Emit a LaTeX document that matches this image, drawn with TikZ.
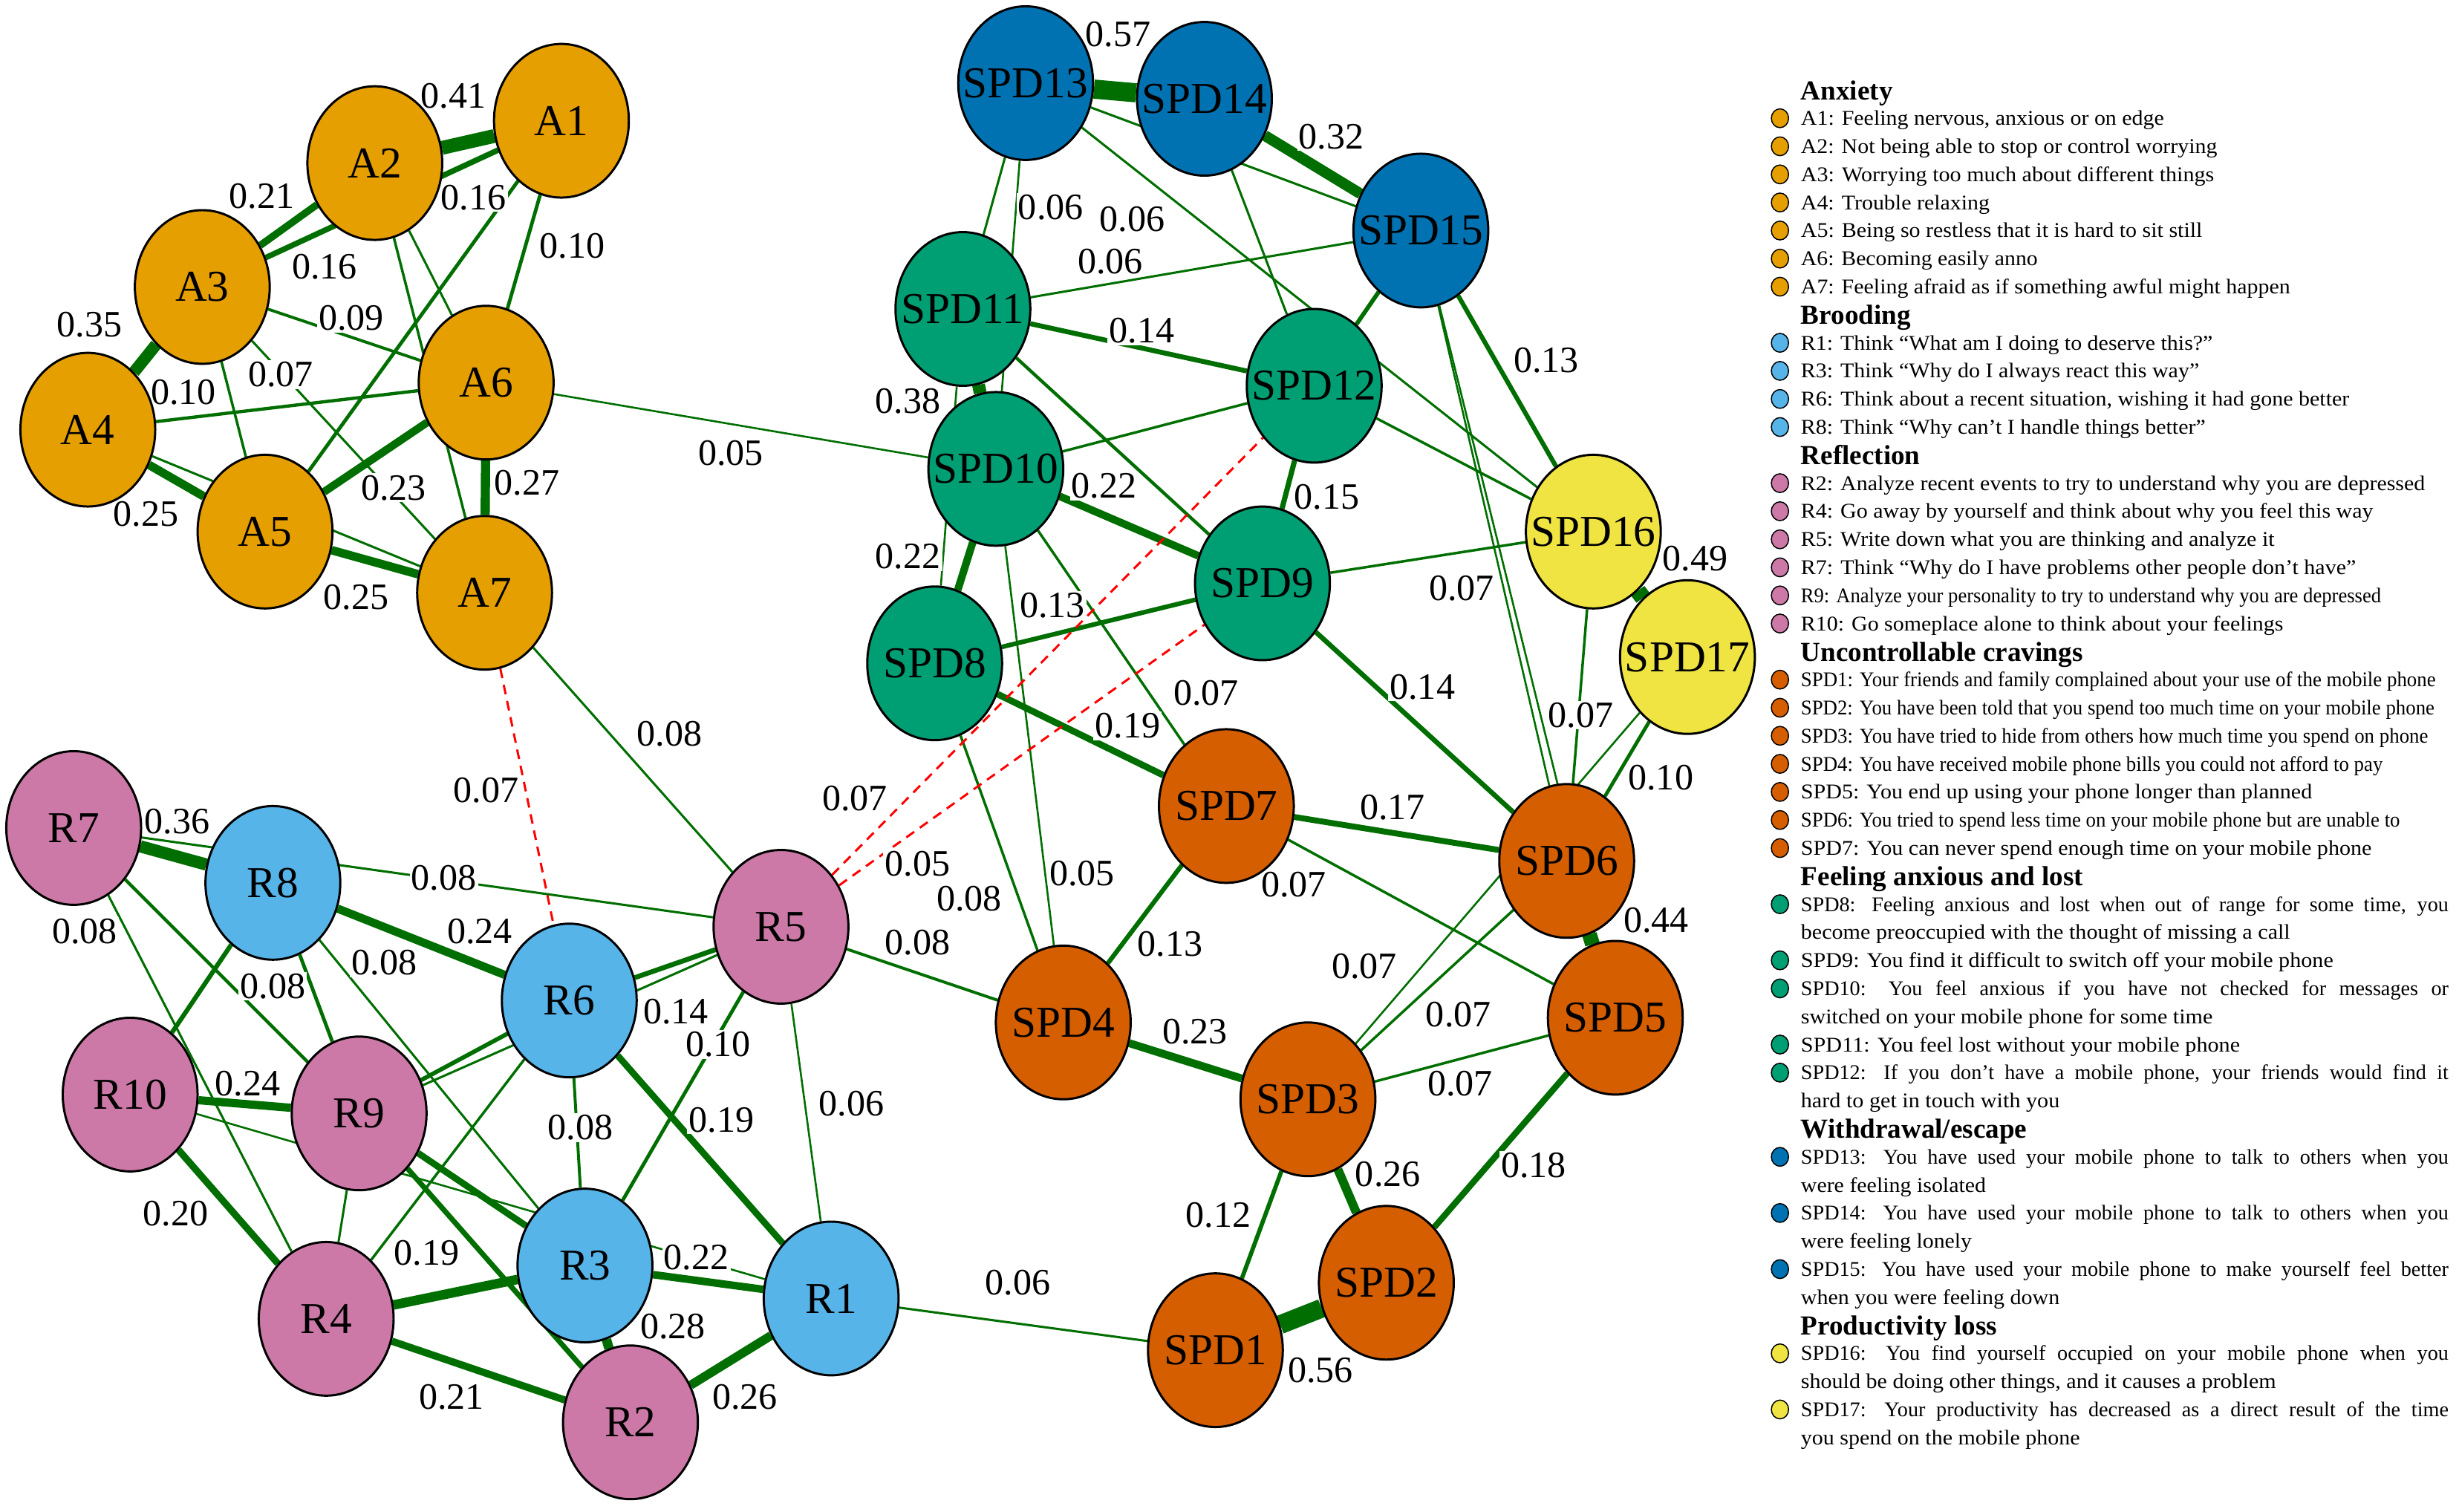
\documentclass[tikz,border=0pt]{standalone}
\usepackage{fontspec}
\setmainfont{Liberation Serif}
\usepackage{graphicx}
\usetikzlibrary{shapes.geometric}
\pgfdeclarelayer{edges}
\pgfsetlayers{edges,main}
\newlength\legunit
\setlength\legunit{0.02cm}
\definecolor{cAnx}{HTML}{E69F00}
\definecolor{cBro}{HTML}{56B4E9}
\definecolor{cRef}{HTML}{CC79A7}
\definecolor{cUnc}{HTML}{D55E00}
\definecolor{cFal}{HTML}{009E73}
\definecolor{cWit}{HTML}{0072B2}
\definecolor{cPro}{HTML}{F0E442}
\definecolor{posgreen}{RGB}{0,110,0}
\tikzset{
  sym/.style={ellipse, draw=black, line width=0.8pt, minimum width=1.72cm,
    minimum height=1.96cm, inner sep=0pt, font=\fontsize{16}{18}\selectfont},
  pw/.style={draw=posgreen, line width=0.1pt+12pt*#1},
  nw/.style={draw=red, line width=0.8pt, dash pattern=on 3.5pt off 2.5pt},
  wlab/.style={fill=white, inner sep=0.6pt, font=\fontsize{13.5}{15}\selectfont},
  legdot/.style={ellipse, draw=black, line width=0.4pt, minimum width=0.22cm,
    minimum height=0.24cm, inner sep=0pt},
  leghead/.style={anchor=base west, inner sep=0pt, font=\bfseries\fontsize{10}{12}\selectfont},
  legtext/.style={anchor=base west, inner sep=0pt, font=\fontsize{7.6}{9}\selectfont},
}
\begin{document}
\begin{tikzpicture}[x=0.02cm,y=-0.02cm]
\useasboundingbox (0,0) rectangle (1568,964);

% symptoms
\foreach \n/\px/\py/\c in {A1/358/77/cAnx, A2/239/104/cAnx, A3/129/183/cAnx,
  A4/56/274/cAnx, A5/169/339/cAnx, A6/310/244/cAnx, A7/309/378/cAnx,
  R1/530/828/cBro, R3/373/807/cBro, R6/363/638/cBro, R8/174/563/cBro,
  R2/402/907/cRef, R4/208/841/cRef, R5/498/591/cRef, R7/47/528/cRef,
  R9/229/710/cRef, R10/83/698/cRef,
  SPD1/775/861/cUnc, SPD2/884/818/cUnc, SPD3/834/701/cUnc, SPD4/678/652/cUnc,
  SPD5/1030/649/cUnc, SPD6/999/549/cUnc, SPD7/782/514/cUnc,
  SPD8/596/423/cFal, SPD9/805/372/cFal, SPD10/635/299/cFal, SPD11/614/197/cFal,
  SPD12/838/246/cFal, SPD13/654/53/cWit, SPD14/768/63/cWit, SPD15/906/147/cWit,
  SPD16/1016/339/cPro, SPD17/1076/419/cPro}
  \node[sym, fill=\c] (\n) at (\px,\py) {\makebox[0pt]{\n}};

\begin{pgfonlayer}{edges}
\foreach \a/\b/\w in {A1/A2/0.41, A1/A3/0.16, A1/A5/0.10, A1/A6/0.10, A2/A3/0.21,
  A2/A6/0.06, A2/A7/0.07, A3/A4/0.35, A3/A5/0.07, A3/A6/0.08, A3/A7/0.06,
  A4/A5/0.25, A4/A6/0.09, A4/A7/0.06, A5/A6/0.23, A5/A7/0.25, A6/A7/0.27,
  A6/SPD10/0.05, A7/R5/0.06,
  SPD13/SPD14/0.57, SPD13/SPD15/0.06, SPD13/SPD11/0.06, SPD13/SPD10/0.05,
  SPD13/SPD16/0.06, SPD14/SPD15/0.32, SPD14/SPD12/0.06, SPD11/SPD15/0.06,
  SPD11/SPD12/0.14, SPD12/SPD15/0.12, SPD11/SPD10/0.38, SPD11/SPD8/0.05,
  SPD11/SPD9/0.09, SPD10/SPD12/0.07, SPD10/SPD9/0.22, SPD10/SPD8/0.22,
  SPD10/SPD7/0.07, SPD10/SPD4/0.05, SPD12/SPD16/0.07, SPD12/SPD9/0.15,
  SPD15/SPD16/0.13, SPD15/SPD6/0.05, SPD15/SPD5/0.05, SPD9/SPD16/0.07,
  SPD9/SPD8/0.13, SPD9/SPD6/0.14, SPD16/SPD17/0.49, SPD16/SPD6/0.07,
  SPD17/SPD6/0.10, SPD17/SPD3/0.05, SPD8/SPD7/0.19, SPD8/SPD4/0.07,
  SPD7/SPD6/0.17, SPD7/SPD5/0.07, SPD7/SPD4/0.13, SPD6/SPD5/0.44,
  SPD6/SPD3/0.07, SPD5/SPD3/0.07, SPD5/SPD2/0.18, SPD4/SPD3/0.23,
  SPD3/SPD2/0.26, SPD3/SPD1/0.12, SPD1/SPD2/0.56, SPD1/R1/0.06, SPD4/R5/0.08,
  R7/R8/0.36, R7/R5/0.06, R7/R4/0.06, R7/R9/0.09, R8/R10/0.13, R8/R9/0.10,
  R8/R3/0.06, R8/R6/0.24, R10/R9/0.24, R10/R1/0.05, R10/R4/0.20, R9/R4/0.06,
  R9/R6/0.12, R9/R5/0.06, R9/R3/0.19, R9/R2/0.15, R6/R4/0.07, R6/R3/0.08,
  R6/R1/0.19, R6/R5/0.14, R5/R3/0.10, R5/R1/0.05, R4/R3/0.28, R3/R1/0.22,
  R3/R2/0.28, R2/R1/0.26, R4/R2/0.21}
  \draw[pw=\w] (\a) -- (\b);
\foreach \a/\b in {A7/R6, R5/SPD12, R5/SPD9}
  \draw[nw] (\a) -- (\b);
% weights
\foreach \lx/\ly/\lv [count=\k] in {289/61/0.41, 167/125/0.21, 302/126/0.16,
  207/170/0.16, 365/157/0.10, 57/207/0.35, 224/203/0.09, 179/239/0.07,
  117/250/0.10, 336/308/0.27, 251/311/0.23, 93/328/0.25, 227/381/0.25,
  466/289/0.05, 427/468/0.08, 310/504/0.07,
  713/22/0.57, 849/87/0.32, 670/132/0.06, 722/140/0.06, 708/167/0.06,
  728/211/0.14, 986/230/0.13, 579/256/0.38, 704/310/0.22, 846/317/0.15,
  579/355/0.22, 671/386/0.13, 932/375/0.07, 1081/356/0.49, 907/438/0.14,
  769/442/0.07, 719/463/0.19, 1008/456/0.07, 1059/496/0.10, 888/515/0.17,
  825/564/0.07, 690/557/0.05, 618/573/0.08, 1056/587/0.44, 746/602/0.13,
  870/616/0.07, 930/647/0.07, 762/658/0.23, 931/691/0.07, 978/743/0.18,
  885/749/0.26, 777/775/0.12, 649/818/0.06, 842/874/0.56, 545/509/0.07,
  585/551/0.05, 585/601/0.08,
  113/524/0.36, 283/560/0.08, 54/594/0.08, 306/594/0.24, 245/614/0.08,
  174/629/0.08, 431/645/0.14, 458/666/0.10, 158/691/0.24, 543/704/0.06,
  370/719/0.08, 460/714/0.19, 112/774/0.20, 272/799/0.19, 444/802/0.22,
  429/846/0.28, 288/891/0.21, 475/891/0.26}
  \node[wlab] (w\k) at (\lx,\ly) {\lv};
\end{pgfonlayer}

% legend
\foreach \i/\t in {0/Anxiety, 8/Brooding, 13/Reflection, 20/Uncontrollable cravings,
  28/Feeling anxious and lost, 37/{Withdrawal/escape}, 44/Productivity loss}
  \node[leghead] (head\i) at (1148,63.5+17.9*\i) {\t};
\foreach \i/\c/\w/\t in {1/cAnx/231.6/{A1: Feeling nervous, anxious or on edge},
  2/cAnx/265.5/{A2: Not being able to stop or control worrying},
  3/cAnx/263.5/{A3: Worrying too much about different things},
  4/cAnx/120.4/{A4: Trouble relaxing},
  5/cAnx/256/{A5: Being so restless that it is hard to sit still},
  6/cAnx/151/{A6: Becoming easily anno},
  7/cAnx/312/{A7: Feeling afraid as if something awful might happen},
  9/cBro/262.6/{R1: Think “What am I doing to deserve this?”},
  10/cBro/254/{R3: Think “Why do I always react this way”},
  11/cBro/349.7/{R6: Think about a recent situation, wishing it had gone better},
  12/cBro/258/{R8: Think “Why can’t I handle things better”},
  14/cRef/398/{R2: Analyze recent events to try to understand why you are depressed},
  15/cRef/365/{R4: Go away by yourself and think about why you feel this way},
  16/cRef/302/{R5: Write down what you are thinking and analyze it},
  17/cRef/354/{R7: Think “Why do I have problems other people don’t have”},
  18/cRef/370/{R9: Analyze your personality to try to understand why you are depressed},
  19/cRef/307.6/{R10: Go someplace alone to think about your feelings},
  21/cUnc/404.8/{SPD1: Your friends and family complained about your use of the mobile phone},
  22/cUnc/404/{SPD2: You have been told that you spend too much time on your mobile phone},
  23/cUnc/400/{SPD3: You have tried to hide from others how much time you spend on phone},
  24/cUnc/371/{SPD4: You have received mobile phone bills you could not afford to pay},
  25/cUnc/326/{SPD5: You end up using your phone longer than planned},
  26/cUnc/382/{SPD6: You tried to spend less time on your mobile phone but are unable to},
  27/cUnc/364/{SPD7: You can never spend enough time on your mobile phone},
  31/cFal/339.5/{SPD9: You find it difficult to switch off your mobile phone},
  34/cFal/280/{SPD11: You feel lost without your mobile phone}}
{
  \node[legdot, fill=\c] (dot\i) at (1135,57.5+17.9*\i) {};
  \node[legtext] (leg\i) at (1148,62+17.9*\i) {\resizebox{\w\legunit}{\height}{\t}};
}
\foreach \i/\c/\t in {29/cFal/{SPD8: Feeling anxious and lost when out of range for some time, you},
  32/cFal/{SPD10: You feel anxious if you have not checked for messages or},
  35/cFal/{SPD12: If you don't have a mobile phone, your friends would find it},
  38/cWit/{SPD13: You have used your mobile phone to talk to others when you},
  40/cWit/{SPD14: You have used your mobile phone to talk to others when you},
  42/cWit/{SPD15: You have used your mobile phone to make yourself feel better},
  45/cPro/{SPD16: You find yourself occupied on your mobile phone when you},
  47/cPro/{SPD17: Your productivity has decreased as a direct result of the time}}
{
  \node[legdot, fill=\c] (dot\i) at (1135,57.5+17.9*\i) {};
  \node[legtext] (leg\i) at (1148,62+17.9*\i) {\makebox[413\legunit][s]{\t}};
}
\foreach \i/\w/\t in {30/312/{become preoccupied with the thought of missing a call},
  33/262.6/{switched on your mobile phone for some time},
  36/165/{hard to get in touch with you},
  39/118/{were feeling isolated},
  41/109/{were feeling lonely},
  43/165/{when you were feeling down},
  46/303/{should be doing other things, and it causes a problem},
  48/178/{you spend on the mobile phone}}
  \node[legtext] (leg\i) at (1148,62+17.9*\i) {\resizebox{\w\legunit}{\height}{\t}};
\end{tikzpicture}
\end{document}
